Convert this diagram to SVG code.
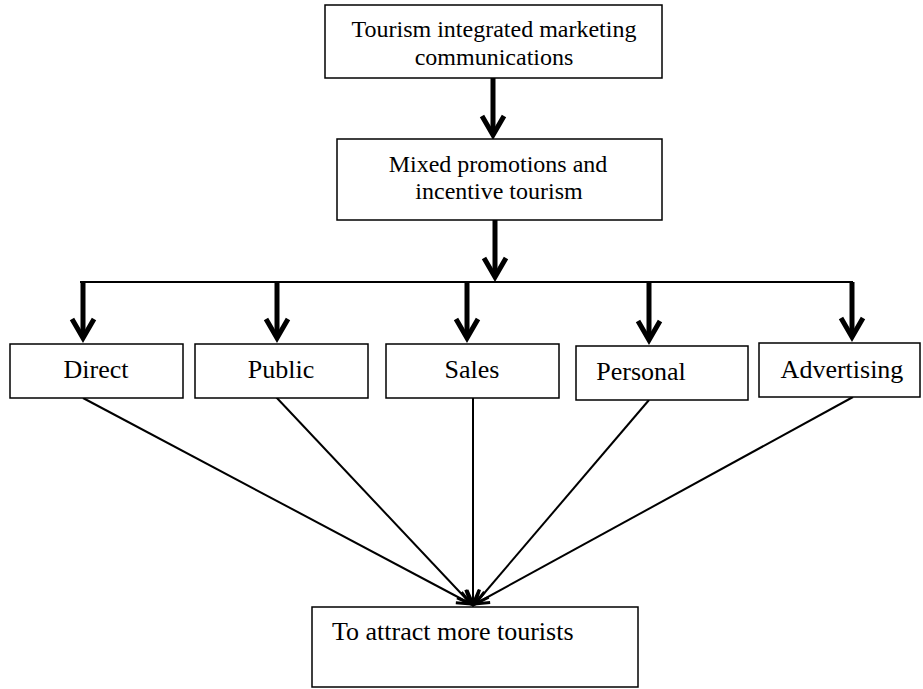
<svg xmlns="http://www.w3.org/2000/svg" width="923" height="689" viewBox="0 0 923 689">
<style>
.box{fill:#fff;stroke:#000;stroke-width:1.5}
.t24{font-family:"Liberation Serif","Times New Roman",serif;font-size:24px;fill:#000}
.t26{font-family:"Liberation Serif","Times New Roman",serif;font-size:26px;fill:#000}
.thick{stroke:#000;stroke-width:5;fill:none}
.thin{stroke:#000;stroke-width:2;fill:none}
</style>
<defs>
<marker id="bigArrow" markerUnits="userSpaceOnUse" markerWidth="40" markerHeight="40" refX="0" refY="0" orient="auto" overflow="visible">
<path d="M-19,-11 L0,0 L-19,11" fill="none" stroke="#000" stroke-width="5" stroke-linejoin="miter"/>
</marker>
<marker id="smallArrow" markerUnits="userSpaceOnUse" markerWidth="30" markerHeight="30" refX="0" refY="0" orient="auto" overflow="visible">
<path d="M-14,-6 L0,0 L-14,6" fill="none" stroke="#000" stroke-width="3" stroke-linejoin="miter"/>
</marker>
</defs>
<rect width="923" height="689" fill="#fff"/>
<g id="connectors">
<line class="thick" x1="493" y1="78" x2="493" y2="135" marker-end="url(#bigArrow)"/>
<line class="thick" x1="495" y1="220" x2="495" y2="277" marker-end="url(#bigArrow)"/>
<line class="thin" x1="80" y1="282" x2="853" y2="282"/>
<line class="thick" x1="83" y1="282" x2="83" y2="338" marker-end="url(#bigArrow)"/>
<line class="thick" x1="277" y1="282" x2="277" y2="338" marker-end="url(#bigArrow)"/>
<line class="thick" x1="467" y1="282" x2="467" y2="338" marker-end="url(#bigArrow)"/>
<line class="thick" x1="649" y1="282" x2="649" y2="340" marker-end="url(#bigArrow)"/>
<line class="thick" x1="852" y1="282" x2="852" y2="337" marker-end="url(#bigArrow)"/>
<line class="thin" x1="83" y1="398" x2="471" y2="604" marker-end="url(#smallArrow)"/>
<line class="thin" x1="276" y1="397" x2="471" y2="604" marker-end="url(#smallArrow)"/>
<line class="thin" x1="473" y1="398" x2="473" y2="604" marker-end="url(#smallArrow)"/>
<line class="thin" x1="649" y1="400" x2="475" y2="604" marker-end="url(#smallArrow)"/>
<line class="thin" x1="853" y1="397" x2="475" y2="604" marker-end="url(#smallArrow)"/>
</g>
<g id="node-imc">
<rect class="box" x="325" y="5" width="337" height="73"/>
<text class="t24" x="494" y="37" text-anchor="middle">Tourism integrated marketing</text>
<text class="t24" x="494" y="65" text-anchor="middle">communications</text>
</g>
<g id="node-mixed">
<rect class="box" x="337" y="139" width="325" height="81"/>
<text class="t24" x="498" y="172" text-anchor="middle">Mixed promotions and</text>
<text class="t24" x="499" y="199" text-anchor="middle">incentive tourism</text>
</g>
<g id="node-direct">
<rect class="box" x="10" y="344" width="173" height="54"/>
<text class="t26" x="96" y="378" text-anchor="middle">Direct</text>
</g>
<g id="node-public">
<rect class="box" x="195" y="344" width="173" height="54"/>
<text class="t26" x="281" y="378" text-anchor="middle">Public</text>
</g>
<g id="node-sales">
<rect class="box" x="386" y="344" width="173" height="54"/>
<text class="t26" x="472" y="378" text-anchor="middle">Sales</text>
</g>
<g id="node-personal">
<rect class="box" x="576" y="346" width="172" height="54"/>
<text class="t26" x="641" y="380" text-anchor="middle">Personal</text>
</g>
<g id="node-advertising">
<rect class="box" x="759" y="343" width="161" height="54"/>
<text class="t26" x="842" y="378" text-anchor="middle">Advertising</text>
</g>
<g id="node-attract">
<rect class="box" x="312" y="607" width="326" height="80"/>
<text class="t26" x="332" y="640">To attract more tourists</text>
</g>
</svg>
